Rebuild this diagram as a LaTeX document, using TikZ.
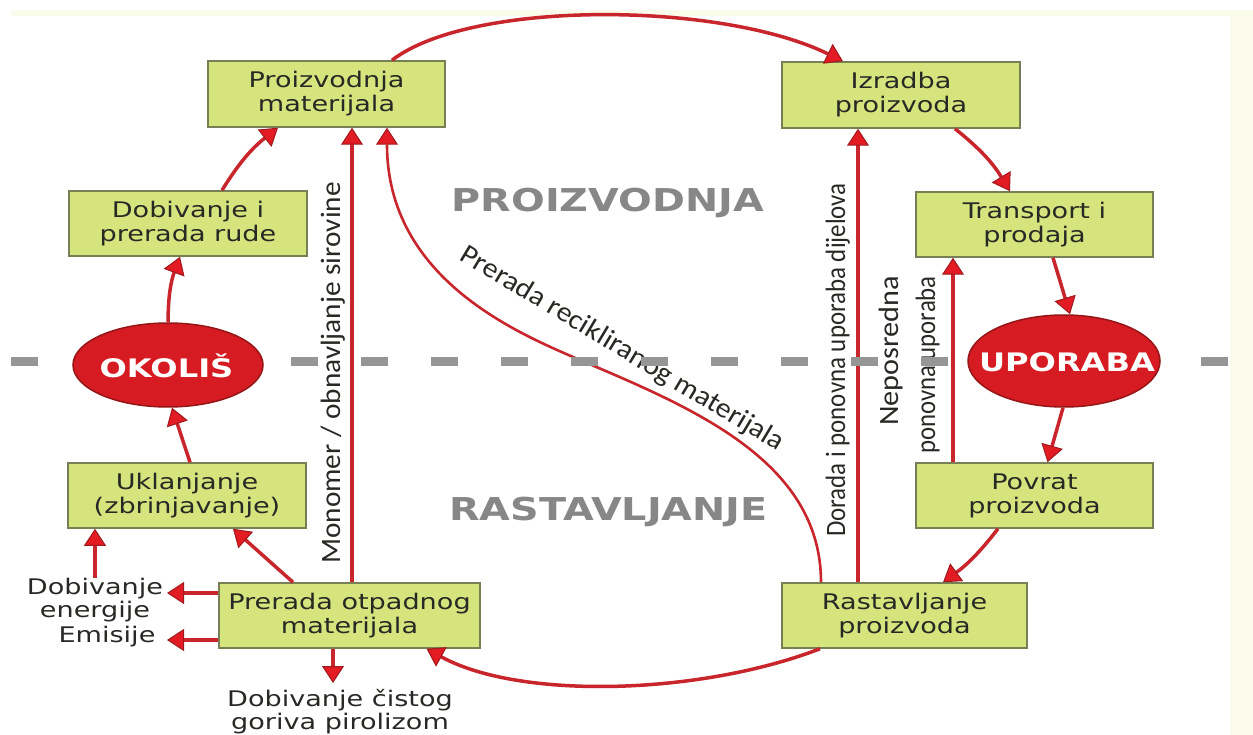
\documentclass[tikz,border=0pt]{standalone}
\usepackage{fontspec}
\usepackage{graphicx}
\usetikzlibrary{arrows.meta,shapes.geometric}
\newfontfamily\wfont[FakeStretch=1.26]{DejaVu Sans}
\newfontfamily\cfont{Carlito}
\definecolor{boxfill}{RGB}{214,228,126}
\definecolor{boxline}{RGB}{118,128,84}
\definecolor{ovfill}{RGB}{214,28,34}
\definecolor{ovline}{RGB}{150,22,24}
\definecolor{linecol}{RGB}{200,38,44}
\definecolor{tipfill}{RGB}{226,28,34}
\definecolor{tipline}{RGB}{160,25,30}
\definecolor{txt}{RGB}{40,40,36}
\definecolor{zonegray}{RGB}{135,135,135}
\definecolor{dashgray}{RGB}{150,150,150}
\definecolor{cream}{RGB}{251,251,236}
\pgfdeclarelayer{background}
\pgfdeclarelayer{front}
\pgfsetlayers{background,main,front}
\tikzset{
  box/.style={draw=boxline, fill=boxfill, line width=1.5pt, inner sep=0pt, text=txt,
    font=\wfont\fontsize{21.5}{24}\selectfont, align=center},
  oval/.style={ellipse, draw=ovline, fill=ovfill, line width=1.5pt, inner sep=0pt},
  ovtext/.style={text=white, inner sep=0pt, font=\wfont\bfseries\fontsize{25.5}{30}\selectfont},
  lab/.style={text=txt, inner sep=0pt, align=center, font=\wfont\fontsize{21.5}{23}\selectfont},
  zone/.style={text=zonegray, inner sep=0pt, font=\wfont\bfseries\fontsize{31.5}{36}\selectfont},
  cond/.style={text=txt, inner sep=0pt, font=\cfont\fontsize{28}{37}\selectfont},
  arr/.style={draw=linecol, line width=3.5pt,
    -{Triangle[width=22pt,length=17pt,color=tipline,fill=tipfill,line width=1pt]}},
  thinarr/.style={arr, line width=2.6pt},
}
\begin{document}
\begin{tikzpicture}[x=1pt,y=-1pt]
\useasboundingbox (0,0) rectangle (1253,735);
\begin{pgfonlayer}{background}
  \fill[white] (0,0) rectangle (1253,735);
  \fill[cream] (11,10) rectangle (1253,16);
  \fill[cream] (1230,10) rectangle (1253,735);
\end{pgfonlayer}

% ellipses on front layer
\begin{pgfonlayer}{front}
  \node[oval, minimum width=190pt, minimum height=84pt] (ok) at (168,365) {};
  \node[ovtext] (okt) at (166.5,366) {OKOLIŠ};
  \node[oval, minimum width=192pt, minimum height=92pt] (up) at (1064,361) {};
  \node[ovtext] (upt) at (1067,362) {UPORABA};
\end{pgfonlayer}

% boxes
\node[box, minimum width=237pt, minimum height=66pt] (pm) at (326.5,94) {Proizvodnja\\materijala};
\node[box, minimum width=238pt, minimum height=66pt] (ip) at (901,95) {Izradba\\proizvoda};
\node[box, minimum width=238pt, minimum height=65pt] (dr) at (188,223.5) {Dobivanje i\\prerada rude};
\node[box, minimum width=237pt, minimum height=65pt] (tp) at (1034.5,224.5) {Transport i\\prodaja};
\node[box, minimum width=238pt, minimum height=65pt] (uk) at (187,495.5) {Uklanjanje\\(zbrinjavanje)};
\node[box, minimum width=237pt, minimum height=65pt] (pp) at (1034.5,495.5) {Povrat\\proizvoda};
\node[box, minimum width=261pt, minimum height=65pt] (po) at (349.5,615.5) {Prerada otpadnog\\materijala};
\node[box, minimum width=245pt, minimum height=65pt] (rp) at (904.5,615.5) {Rastavljanje\\proizvoda};

% zone labels
\node[zone, anchor=base] (zp) at (608,212) {PROIZVODNJA};
\node[zone, anchor=base] (zr) at (608.5,520) {RASTAVLJANJE};

% side labels
\node[lab] (de) at (95,600) {Dobivanje\\energije};
\node[lab] (em) at (107,637) {Emisije};
\node[lab] (dg) at (340,712) {Dobivanje čistog\\goriva pirolizom};
\coordinate (ae) at (167,593);
\coordinate (aem) at (167,640);
\coordinate (ag) at (333,683);

% condensed labels
\node[cond, rotate=90, anchor=base] (lm) at (340,373) {\scalebox{1.046}[1]{Monomer / obnavljanje sirovine}};
\node[cond, rotate=90, anchor=base] (ld) at (845,360) {\scalebox{0.89}[1]{Dorada i ponovna uporaba dijelova}};
\node[cond, rotate=90, anchor=north east] (ln) at (872,276) {\begin{tabular}{@{}r@{}}\scalebox{1.08}[1]{Neposredna}\\\scalebox{0.885}[1]{ponovna uporaba}\end{tabular}};
\node[cond, rotate=-31] (lr) at (622,349) {\scalebox{1.07}[1]{Prerada recikliranog materijala}};

% main cycle
\draw[arr] ([xshift=65.5pt]pm.north) .. controls (470,0) and (720,1) .. ([xshift=-58pt]ip.north);
\draw[arr] ([xshift=54pt]ip.south) to[bend left=10] ([xshift=-24.5pt]tp.north);
\draw[arr] ([xshift=18.5pt]tp.south) -- ([xshift=6pt]up.north);
\draw[arr] ([xshift=-1pt]up.south) -- ([xshift=13pt]pp.north);
\draw[arr] ([xshift=-36.5pt]pp.south) to[bend left=8] ([xshift=38.5pt]rp.north);
\draw[arr] ([xshift=-84.5pt]rp.south) .. controls (700,695) and (520,700) .. ([xshift=77pt]po.south);
\draw[arr] ([xshift=-56.5pt]po.north) -- ([xshift=46pt]uk.south);
\draw[arr] ([xshift=3pt]uk.north) -- ([xshift=4pt]ok.south);
\draw[arr] (ok.north) to[bend left=10] ([xshift=-8pt]dr.south);
\draw[arr] ([xshift=34pt]dr.north) to[bend left=10] ([xshift=-48.5pt]pm.south);

% outputs of Prerada
\draw[arr] (po.west |- ae) -- (ae);
\draw[arr] (po.west |- aem) -- (aem);
\draw[arr] (po.south -| ag) -- (ag);
\draw[arr] (de.north) -- (uk.south -| de.north);

% return flows
\draw[arr] ([xshift=2.5pt]po.north) -- ([xshift=2.5pt]po.north |- pm.south);
\draw[arr] ([xshift=-46.5pt]rp.north) -- ([xshift=-46.5pt]rp.north |- ip.south);
\draw[arr] ([xshift=-81.5pt]pp.north) -- ([xshift=-81.5pt]pp.north |- tp.south);
\draw[thinarr] ([xshift=-83.5pt]rp.north) .. controls (821,460) and (690,407) .. (580,360)
   .. controls (520,334) and (387,280) .. ([xshift=60.5pt]pm.south);

% dashed divider
\draw[dashgray, line width=9pt, dash pattern=on 27pt off 43pt] (11,361) -- (1228,361);
\end{tikzpicture}
\end{document}
